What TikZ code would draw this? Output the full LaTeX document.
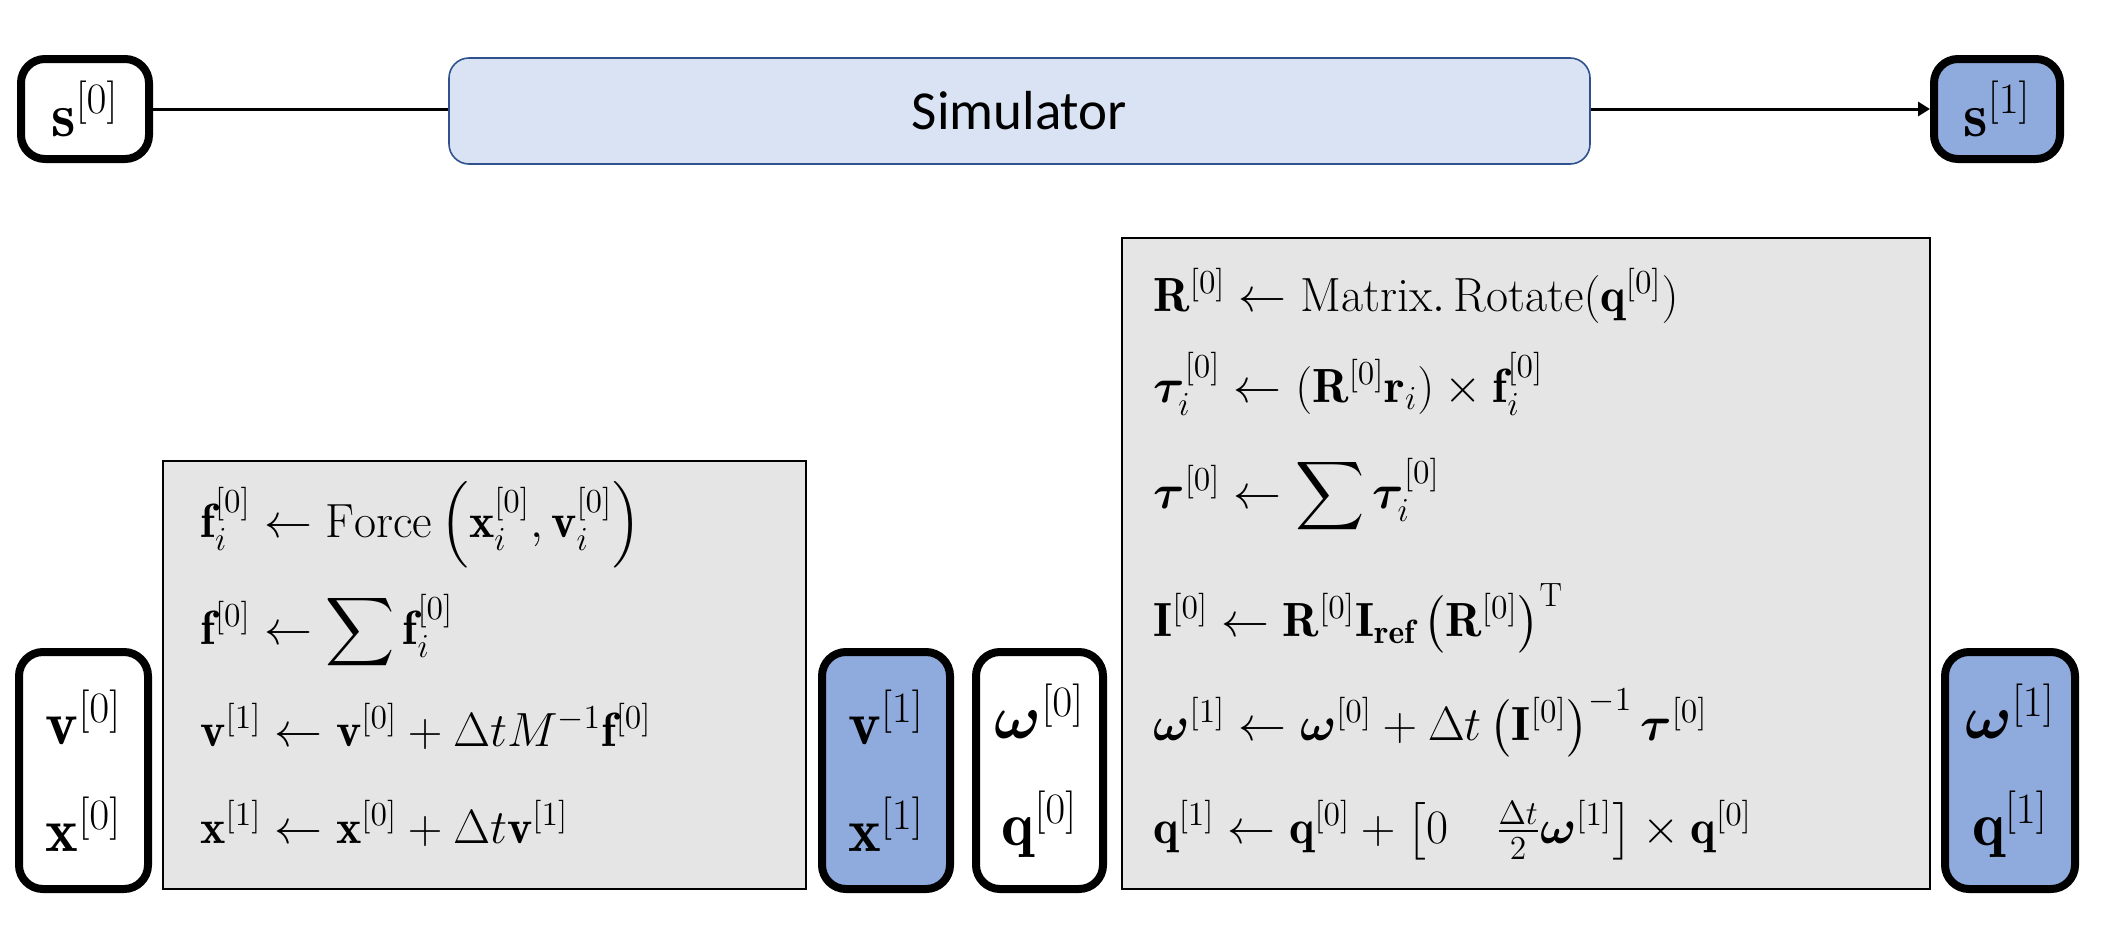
\RequirePackage{fix-cm}
\documentclass[tikz,border=0pt]{standalone}
\usepackage{amsmath,amssymb}
\usepackage{bm}
\usepackage{fontspec}
\newfontfamily\carlito{Carlito}
\usetikzlibrary{arrows.meta}
\definecolor{simfill}{HTML}{DAE3F3}
\definecolor{simdraw}{HTML}{2F528F}
\definecolor{outblue}{HTML}{8FAADC}
\definecolor{panelgray}{HTML}{E5E5E5}
\tikzset{
  statebox/.style={draw=black, line width=4pt, rounded corners=12pt, fill=white,
    align=center, inner sep=0pt, font=\fontsize{31}{53.5}\selectfont},
  outbox/.style={statebox, fill=outblue},
  panel/.style={draw=black, line width=1.3pt, fill=panelgray, inner sep=0pt},
  eq/.style={anchor=base west, inner sep=0pt, font=\fontsize{24}{29}\selectfont},
  conn/.style={line width=1.5pt},
}
\begin{document}
\begin{tikzpicture}[x=0.5pt,y=-0.5pt]
\useasboundingbox (0,0) rectangle (2102,926);
% top row
\node[statebox, minimum width=64pt, minimum height=50pt] (s0) at (85,109) {$\mathbf{s}^{[0]}$};
\node[draw=simdraw, line width=0.8pt, fill=simfill, rounded corners=10pt,
  minimum width=570.5pt, minimum height=53pt, inner sep=0pt,
  font=\carlito\fontsize{27.5}{33}\selectfont] (sim) at (1019.5,111) {Simulator};
\node[outbox, minimum width=63pt, minimum height=50pt] (s1) at (1997,109) {$\mathbf{s}^{[1]}$};
\draw[conn] (s0.east) -- (s0.east -| sim.west);
\draw[conn, -{Triangle[length=6pt,width=7pt]}] (s1.west -| sim.east) -- (s1.west);
% panels
\node[panel, minimum width=321.5pt, minimum height=214pt] (lpanel) at (484.5,675) {};
\node[panel, minimum width=404pt, minimum height=325.5pt] (rpanel) at (1526,563.5) {};
% state boxes
\node[statebox, minimum width=64.5pt, minimum height=118.5pt] (vx0) at (83.5,770.5)
  {$\mathbf{v}^{[0]}$\\$\mathbf{x}^{[0]}$};
\node[outbox, minimum width=64pt, minimum height=118.5pt] (vx1) at (886,770.5)
  {$\mathbf{v}^{[1]}$\\$\mathbf{x}^{[1]}$};
\node[statebox, minimum width=63.5pt, minimum height=118.5pt] (wq0) at (1039.5,770.5)
  {$\bm{\omega}^{[0]}$\\$\mathbf{q}^{[0]}$};
\node[outbox, minimum width=65pt, minimum height=118.5pt] (wq1) at (2010,770.5)
  {$\bm{\omega}^{[1]}$\\$\mathbf{q}^{[1]}$};
% left equations
\node[eq] (l1) at (200,537) {$\mathbf{f}_i^{[0]} \leftarrow \mathrm{Force}\left(\mathbf{x}_i^{[0]},\mathbf{v}_i^{[0]}\right)$};
\node[eq] (l2) at (200,644) {$\mathbf{f}^{[0]} \leftarrow \displaystyle\sum \mathbf{f}_i^{[0]}$};
\node[eq] (l3) at (200,746) {$\mathbf{v}^{[1]} \leftarrow \mathbf{v}^{[0]} + \Delta t M^{-1}\mathbf{f}^{[0]}$};
\node[eq] (l4) at (200,843) {$\mathbf{x}^{[1]} \leftarrow \mathbf{x}^{[0]} + \Delta t\mathbf{v}^{[1]}$};
% right equations
\node[eq] (r1) at (1153,311) {$\mathbf{R}^{[0]} \leftarrow \mathrm{Matrix.\,Rotate}(\mathbf{q}^{[0]})$};
\node[eq] (r2) at (1153,402) {$\bm{\tau}_i^{[0]} \leftarrow (\mathbf{R}^{[0]}\mathbf{r}_i) \times \mathbf{f}_i^{[0]}$};
\node[eq] (r3) at (1153,508) {$\bm{\tau}^{[0]} \leftarrow \displaystyle\sum \bm{\tau}_i^{[0]}$};
\node[eq] (r4) at (1153,636) {$\mathbf{I}^{[0]} \leftarrow \mathbf{R}^{[0]}\mathbf{I}_{\mathbf{ref}}\left(\mathbf{R}^{[0]}\right)^{\mathrm{T}}$};
\node[eq] (r5) at (1153,740) {$\bm{\omega}^{[1]} \leftarrow \bm{\omega}^{[0]} + \Delta t\left(\mathbf{I}^{[0]}\right)^{-1}\bm{\tau}^{[0]}$};
\node[eq] (r6) at (1153,843) {$\mathbf{q}^{[1]} \leftarrow \mathbf{q}^{[0]} + \left[0 \quad \frac{\Delta t}{2}\bm{\omega}^{[1]}\right] \times \mathbf{q}^{[0]}$};
\end{tikzpicture}
\end{document}
